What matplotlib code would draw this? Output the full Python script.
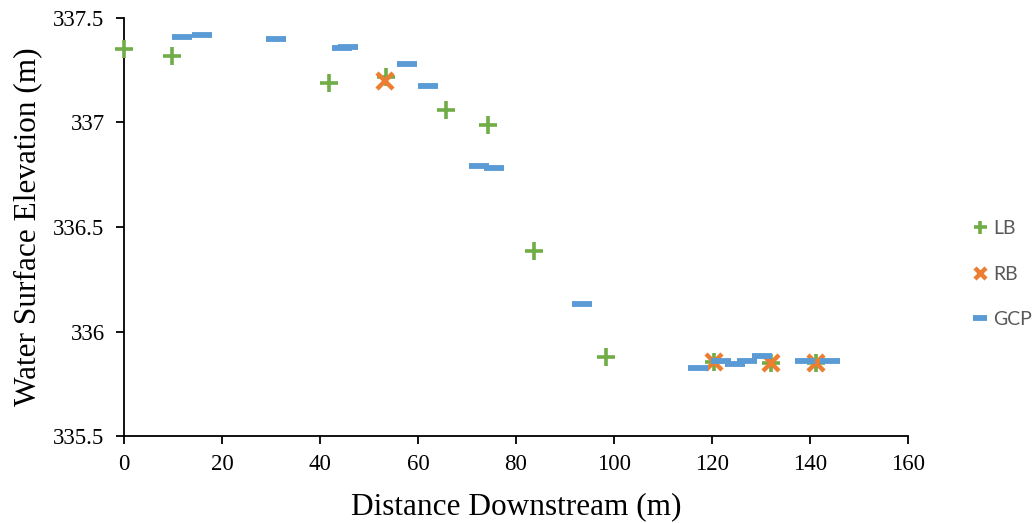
import matplotlib
matplotlib.use("Agg")
import matplotlib.pyplot as plt

# Data
lb_x = [0, 9.8, 41.8, 53.5, 65.7, 74.3, 83.7, 98.4, 120.4, 132.0, 141.2]
lb_y = [337.35, 337.32, 337.19, 337.22, 337.06, 336.99, 336.385, 335.878, 335.855, 335.85, 335.85]
rb_x = [53.3, 120.4, 132.0, 141.2]
rb_y = [337.20, 335.855, 335.85, 335.85]
gcp_x = [11.8, 15.9, 31.0, 44.5, 45.7, 57.8, 62.0, 72.4, 75.5, 93.4,
         117.2, 121.8, 124.7, 127.1, 130.2, 139.0, 144.0]
gcp_y = [337.41, 337.417, 337.40, 337.357, 337.36, 337.28, 337.176, 336.79, 336.78, 336.13,
         335.824, 335.86, 335.843, 335.86, 335.883, 335.86, 335.86]
x_ticks = [0, 20, 40, 60, 80, 100, 120, 140, 160]
y_ticks = [335.5, 336, 336.5, 337, 337.5]
y_tick_labels = ["335.5", "336", "336.5", "337", "337.5"]

fig = plt.figure(figsize=(10.36, 5.23), dpi=100)
ax = fig.add_axes([0.1197, 0.1663, 0.7567, 0.7993])

ax.plot(lb_x, lb_y, linestyle="none", marker="+", markersize=13, markeredgewidth=2.6,
        color="#70AD47", label="LB", zorder=3, clip_on=False)
ax.plot(rb_x, rb_y, linestyle="none", marker="x", markersize=11, markeredgewidth=3.2,
        color="#ED7D31", label="RB", zorder=4, clip_on=False)
ax.plot(gcp_x, gcp_y, linestyle="none", marker="_", markersize=14.5, markeredgewidth=4.2,
        color="#5B9BD5", label="GCP", zorder=5, clip_on=False)

ax.set_xlim(0, 160)
ax.set_ylim(335.5, 337.5)
ax.set_xticks(x_ticks)
ax.set_xticklabels([str(t) for t in x_ticks])
ax.set_yticks(y_ticks)
ax.set_yticklabels(y_tick_labels)

for s in ["top", "right"]:
    ax.spines[s].set_visible(False)
for s in ["left", "bottom"]:
    ax.spines[s].set_color("black")
    ax.spines[s].set_linewidth(1.3)
ax.tick_params(direction="out", length=6, width=1.3, color="black",
               labelsize=16.5, labelcolor="black")
ax.tick_params(axis="y", pad=8)
ax.tick_params(axis="x", pad=7)
for lbl in ax.get_xticklabels() + ax.get_yticklabels():
    lbl.set_fontfamily("Liberation Serif")

ax.set_xlabel("Distance Downstream (m)", fontfamily="Liberation Serif", fontsize=22.5, labelpad=12)
ax.set_ylabel("Water Surface Elevation (m)", fontfamily="Liberation Serif", fontsize=22.5, labelpad=8)

leg = fig.legend(loc="center left", bbox_to_anchor=(0.938, 0.476), frameon=False,
                 prop={"family": "Lato", "size": 14}, labelspacing=1.47,
                 borderpad=0, borderaxespad=0,
                 handlelength=0.8, handletextpad=0.3, markerscale=0.72)
for t in leg.get_texts():
    t.set_color("#595959")

fig.savefig("out.png", dpi=100)
